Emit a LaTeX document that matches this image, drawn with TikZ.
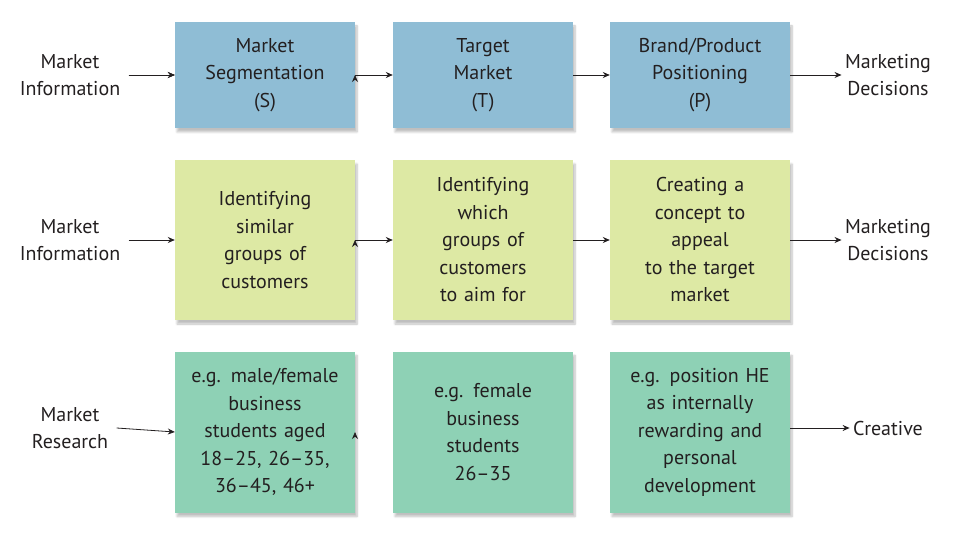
\documentclass[tikz,border=0pt]{standalone}
\usepackage{fontspec}
\setmainfont{PT Sans}
\usetikzlibrary{arrows.meta,shadows.blur}
\definecolor{bl}{HTML}{8FBDD5}
\definecolor{gr}{HTML}{DDE9A4}
\definecolor{tl}{HTML}{8ED1B5}
\definecolor{tx}{HTML}{231F20}
\tikzset{
 box/.style={minimum width=180pt,text width=170pt,align=center,inner sep=0pt,text=tx,
   blur shadow={shadow xshift=2pt,shadow yshift=-4pt,shadow blur steps=6,shadow opacity=25}},
 lbl/.style={align=center,text=tx},
 arr/.style={-{Stealth[length=7pt,width=6pt]},line width=0.8pt,draw=tx},
}
\begin{document}
\begin{tikzpicture}[x=1pt,y=-1pt,font=\fontsize{20}{27.5}\selectfont]
\useasboundingbox (0,0) rectangle (955,537);
% row 1
\node[box,fill=bl,minimum height=106pt] (a1) at (265,75) {Market\\Segmentation\\(S)};
\node[box,fill=bl,minimum height=106pt] (b1) at (483,75) {Target\\Market\\(T)};
\node[box,fill=bl,minimum height=106pt] (c1) at (700,75) {Brand/Product\\Positioning\\(P)};
\node[lbl] (l1) at (70,75) {Market\\Information};
\node[lbl] (r1) at (888,75) {Marketing\\Decisions};
% row 2
\node[box,fill=gr,minimum height=160pt] (a2) at (265,240) {Identifying\\similar\\groups of\\customers};
\node[box,fill=gr,minimum height=160pt] (b2) at (483,240) {Identifying\\which\\groups of\\customers\\to aim for};
\node[box,fill=gr,minimum height=160pt] (c2) at (700,240) {Creating a\\concept to\\appeal\\to the target\\market};
\node[lbl] (l2) at (70,240) {Market\\Information};
\node[lbl] (r2) at (888,240) {Marketing\\Decisions};
% row 3
\node[box,fill=tl,minimum height=161pt] (a3) at (265,432) {e.g. male/female\\business\\students aged\\18–25, 26–35,\\36–45, 46+};
\node[box,fill=tl,minimum height=161pt] (b3) at (483,432) {e.g. female\\business\\students\\26–35\\[27.5pt]};
\node[box,fill=tl,minimum height=161pt] (c3) at (700,432) {e.g. position HE\\as internally\\rewarding and\\personal\\development};
\node[lbl] (l3) at (70,428) {Market\\Research};
\node[lbl] (r3) at (888,428) {Creative};
% arrows
\foreach \r in {1,2,3}{
 \draw[arr] (l\r.east)+(5,0) -- (a\r.west);
 \draw[arr] (a\r) ++(90,0) ++(0,0) coordinate (t) ;
}
\draw[arr] (l1.east)++(5,0) -- (a1.west);
\draw[arr] (a1.east) -- (b1.west);
\draw[arr] (b1.east) -- (c1.west);
\draw[arr] (c1.east) -- (r1.west);
\draw[arr] (a2.east) -- (b2.west);
\draw[arr] (b2.east) -- (c2.west);
\draw[arr] (c2.east) -- (r2.west);
\draw[arr] (c3.east |- r3) -- (r3.west);
\end{tikzpicture}
\end{document}
